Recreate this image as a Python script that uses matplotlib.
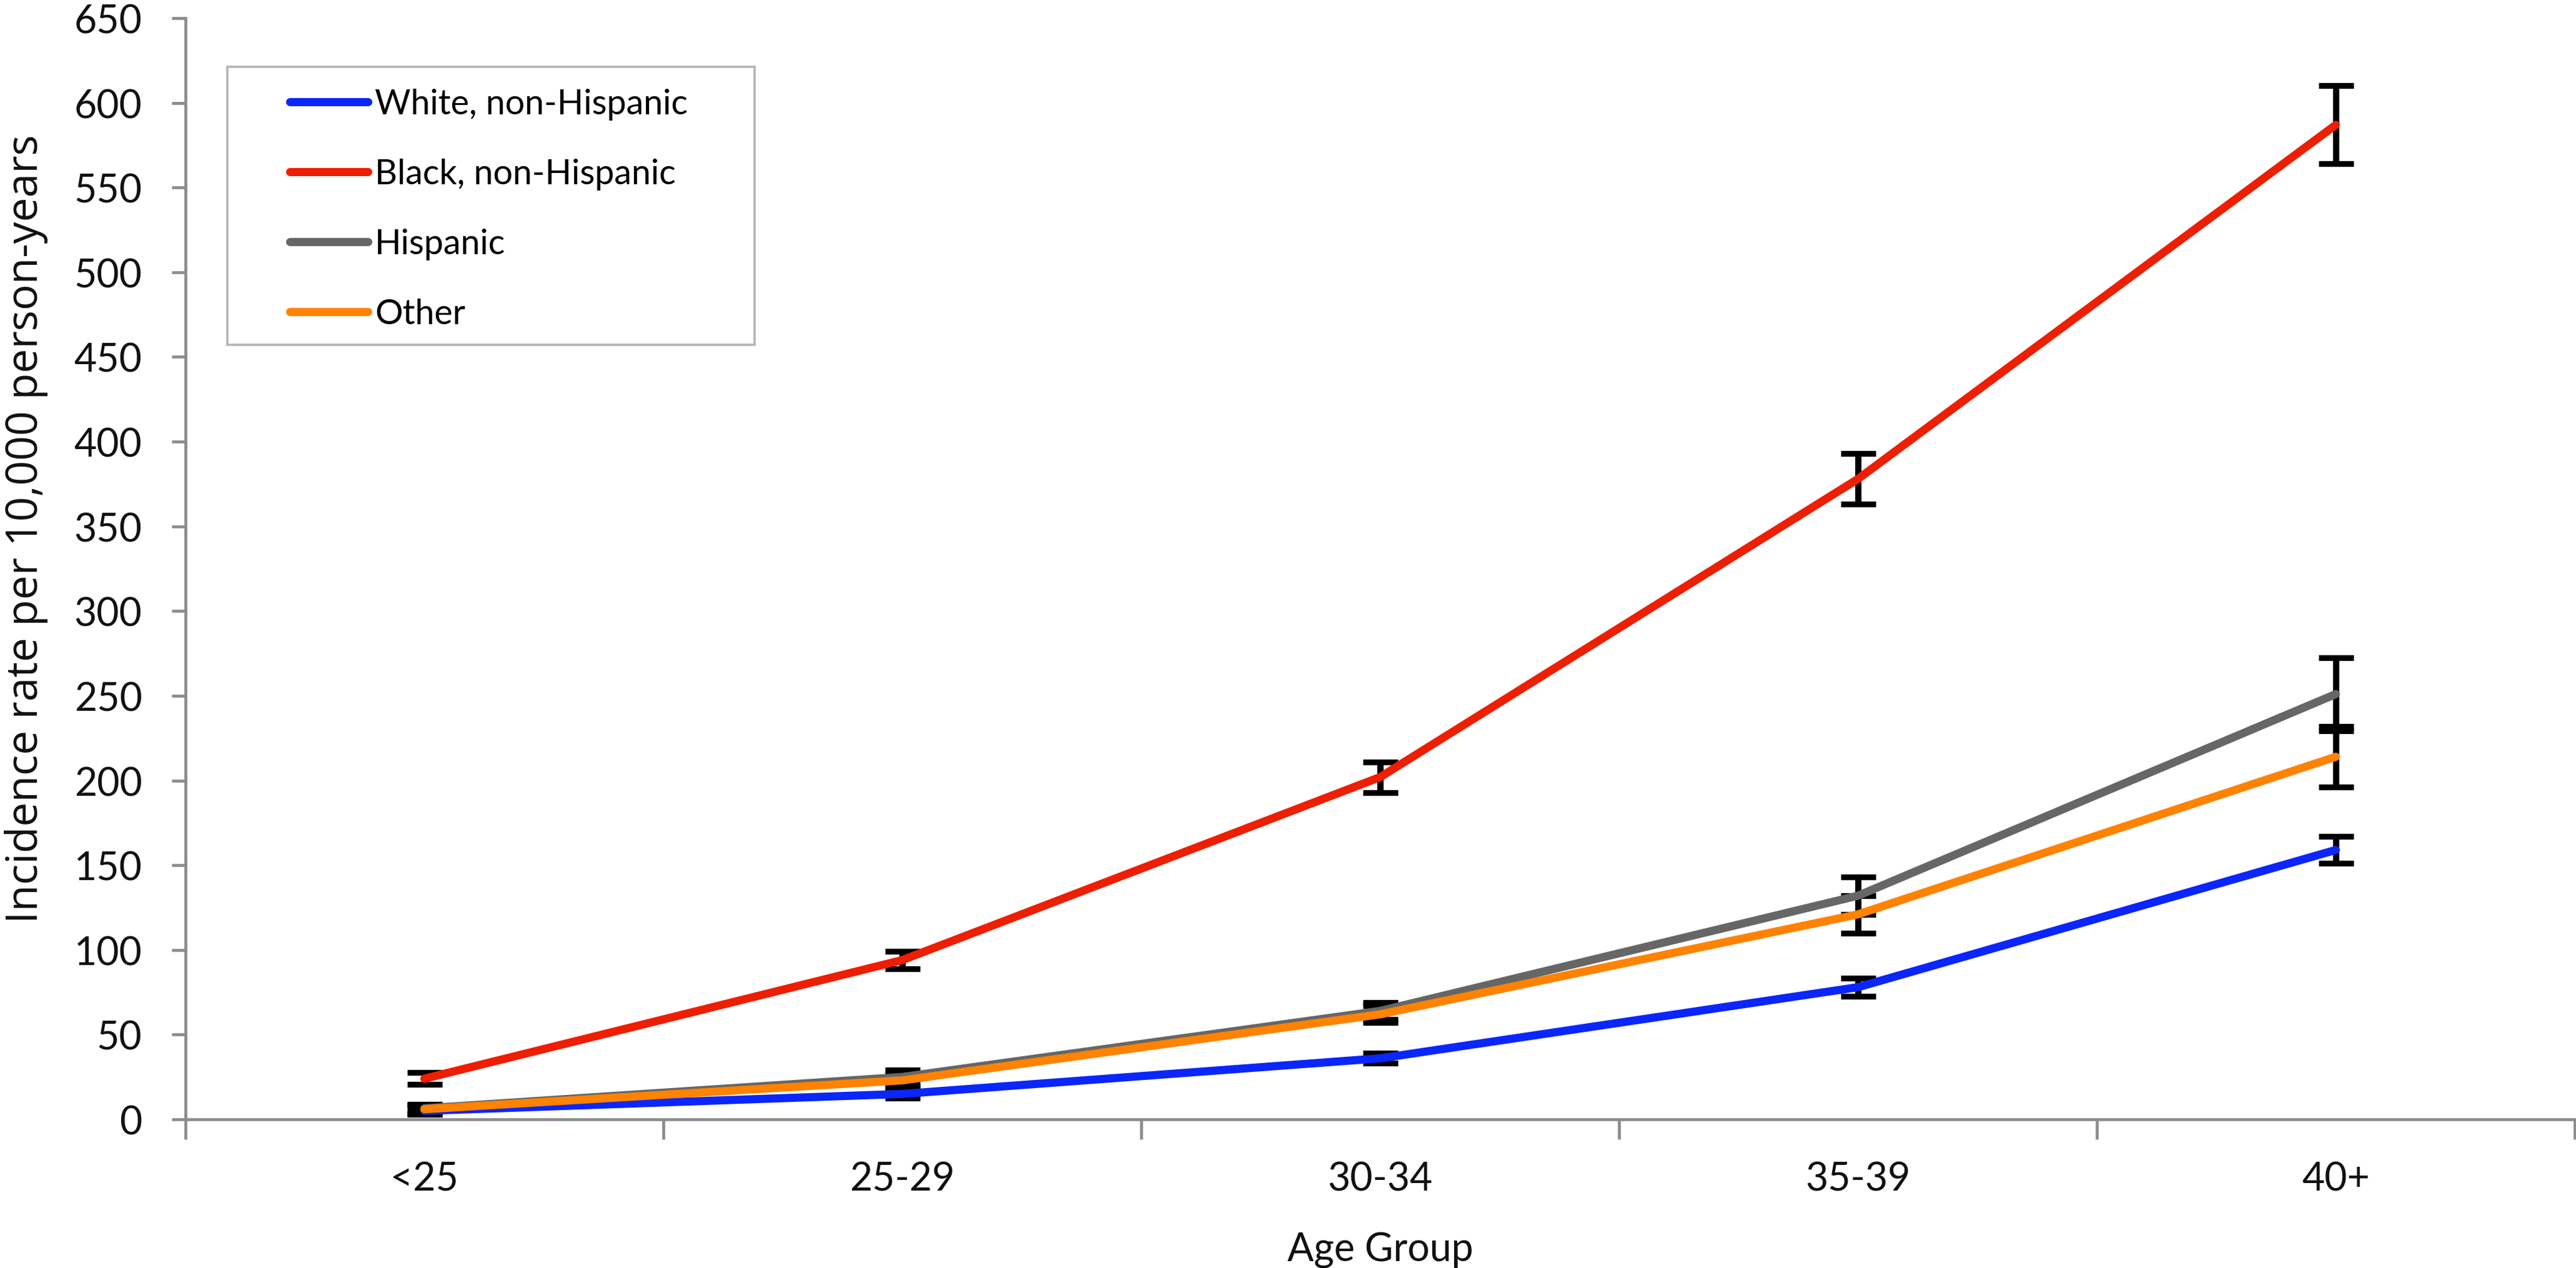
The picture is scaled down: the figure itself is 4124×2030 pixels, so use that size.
import matplotlib
matplotlib.use("Agg")
import matplotlib.pyplot as plt
from matplotlib.patches import Rectangle
from matplotlib.lines import Line2D
from matplotlib.ticker import FixedLocator
import numpy as np

# data (incidence per 10,000 person-years)
age_groups = ["<25", "25-29", "30-34", "35-39", "40+"]
series_names = ["White, non-Hispanic", "Black, non-Hispanic", "Hispanic", "Other"]

white = [5, 15, 36, 78, 159]
white_err = [2, 2.5, 3, 5.5, 8]
black = [24, 94, 202, 378, 587]
black_err = [3.5, 5, 9, 15, 23]
hispanic = [6.5, 25, 64, 132, 251]
hispanic_err = [2.5, 4, 5, 11, 21.5]
other = [6, 23, 62, 121, 214]
other_err = [2.5, 4, 5, 11, 18]

colors = ["#0A26FB", "#EE1E00", "#666666", "#FF8200"]
axis_grey = "#8C8C8C"

plt.rcParams['font.family'] = ['Lato', 'DejaVu Sans']

fig = plt.figure(figsize=(41.24, 20.31), dpi=100)
ax = fig.add_axes([297 / 4124, 1 - 1793 / 2031, 3825 / 4124, 1763 / 2031])

x = np.arange(len(age_groups))
values = [white, black, hispanic, other]
errors = [white_err, black_err, hispanic_err, other_err]

# error bars sit underneath the lines
for vals, err in zip(values, errors):
    ax.errorbar(x, vals, yerr=err, fmt='none', ecolor='black',
                elinewidth=7.2, capsize=20, capthick=6.7, zorder=2)

for vals, c in zip(values, colors):
    ax.plot(x, vals, color=c, lw=9.4, solid_capstyle='round',
            solid_joinstyle='round', zorder=3)

ax.set_xlim(-0.5, 4.5)
ax.set_ylim(0, 650)

ax.set_yticks(np.arange(0, 651, 50))
ax.set_xticks(x)
ax.set_xticklabels(age_groups)
ax.xaxis.set_minor_locator(FixedLocator(np.arange(-0.5, 4.6, 1)))

for side in ["top", "right"]:
    ax.spines[side].set_visible(False)
for side in ["left", "bottom"]:
    ax.spines[side].set_color(axis_grey)
    ax.spines[side].set_linewidth(3.4)

ax.tick_params(axis='y', which='major', direction='out', length=16, width=3.4,
               color=axis_grey, labelsize=45, pad=34, labelcolor='#111111')
ax.tick_params(axis='x', which='major', length=0, labelsize=45, pad=48,
               labelcolor='#111111')
ax.tick_params(axis='x', which='minor', direction='out', length=23, width=3.4,
               color=axis_grey)

ax.set_xlabel("Age Group", fontsize=45, color='#111111', labelpad=40)
ax.set_ylabel("Incidence rate per 10,000 person-years", fontsize=50,
              color='#111111', family=['Open Sans', 'DejaVu Sans'])
ax.yaxis.set_label_coords(-0.0575, 0.537)

# legend, with a hand placed frame like the original
handles = [Line2D([0], [0], color=c, lw=9.4, solid_capstyle='round') for c in colors]
fig.legend(handles, series_names, loc='upper left',
           bbox_to_anchor=(464 / 4124, 1 - 142 / 2031), frameon=False,
           fontsize=40, handlelength=2.25, handletextpad=0.2, labelspacing=1.1,
           borderpad=0, borderaxespad=0)
fig.patches.append(Rectangle((364 / 4124, 1 - 553 / 2031), 844 / 4124, 445 / 2031,
                             transform=fig.transFigure, fill=False,
                             edgecolor='#B4B4B4', lw=2.6))

fig.savefig("out.png", dpi=100, facecolor='white')
